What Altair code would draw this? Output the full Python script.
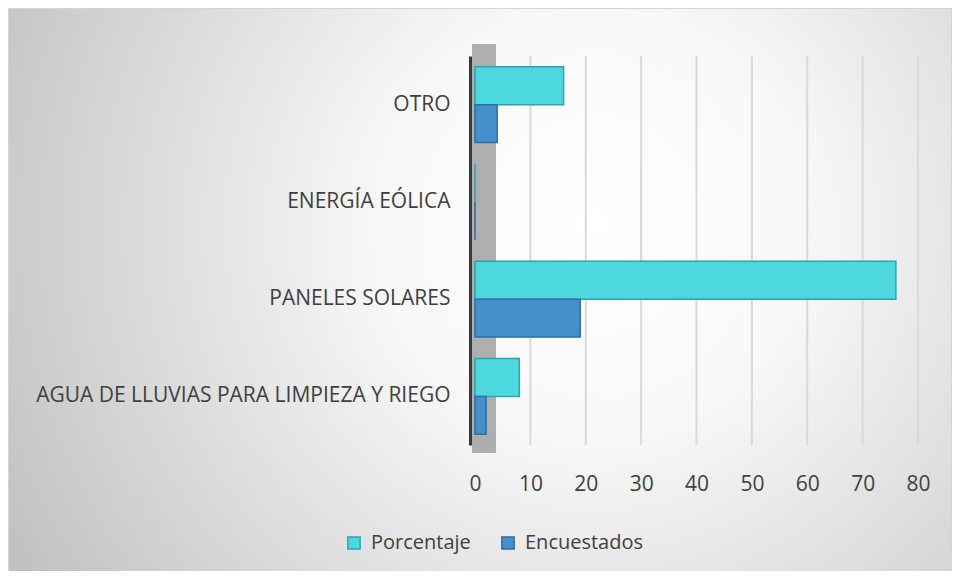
import altair as alt
import pandas as pd

categories = ["OTRO", "ENERGÍA EÓLICA", "PANELES SOLARES", "AGUA DE LLUVIAS PARA LIMPIEZA Y RIEGO"]
series = ["Porcentaje", "Encuestados"]
porcentaje = [16, 0, 76, 8]
encuestados = [4, 0, 19, 2]
x_ticks = [0, 10, 20, 30, 40, 50, 60, 70, 80]

fill_colors = ["#4dd8e0", "#4590cc"]
stroke_colors = ["#27a6ad", "#2d6ea6"]
FONT = "Open Sans"
TXT = "#404040"

rows = []
for c, p, e in zip(categories, porcentaje, encuestados):
    rows.append({"category": c, "series": "Porcentaje", "value": p})
    rows.append({"category": c, "series": "Encuestados", "value": e})
df = pd.DataFrame(rows)

PL, PT, PR, PB = 467, 48, 34, 126
W, H = 443, 389

bg = alt.Chart(pd.DataFrame({"a": [0]})).mark_rect(
    fill=alt.RadialGradient(
        gradient="radial",
        x1=0.62, y1=0.42, r1=0.0,
        x2=0.62, y2=0.42, r2=0.75,
        stops=[
            alt.GradientStop(offset=0, color="#ffffff"),
            alt.GradientStop(offset=0.3, color="#f8f8f8"),
            alt.GradientStop(offset=1, color="#bcbcbc"),
        ],
    ),
    stroke="#d4d4d4",
    strokeWidth=1,
    clip=False,
).encode(
    x=alt.value(-PL + 0.5), x2=alt.value(W + PR - 0.5),
    y=alt.value(-PT + 0.5), y2=alt.value(H + PB + 20),
)

grid = alt.Chart(pd.DataFrame({"t": x_ticks})).mark_rule(
    color="#d9d9d9", strokeWidth=2
).encode(x=alt.X("t:Q"))

wall = alt.Chart(pd.DataFrame({"a": [0]})).mark_rect(
    color="#a6a6a6", opacity=0.9, clip=False
).encode(
    x=alt.value(-3), x2=alt.value(21),
    y=alt.value(-12), y2=alt.value(H + 8),
)

legend_kw = dict(
    title=None, orient="none", legendX=-131, legendY=477,
    direction="horizontal", symbolType="square", symbolSize=150,
    symbolStrokeWidth=1.5, labelFontSize=20, labelFont=FONT,
    labelColor=TXT, columnPadding=27, labelOffset=7,
)

bars = alt.Chart(df).mark_bar(strokeWidth=1.5).encode(
    y=alt.Y(
        "category:N",
        sort=categories,
        scale=alt.Scale(paddingInner=0.22, paddingOuter=0.11),
        axis=alt.Axis(
            title=None, ticks=False, domain=True, domainColor="#3a3a3a",
            domainWidth=3, offset=5, labelPadding=20, labelFontSize=21,
            labelFont=FONT, labelColor=TXT, labelLimit=600, zindex=2,
        ),
    ),
    yOffset=alt.YOffset("series:N", sort=series),
    x=alt.X(
        "value:Q",
        scale=alt.Scale(domain=[0, 80], nice=False),
        axis=alt.Axis(
            title=None, values=x_ticks, ticks=False, domain=False,
            grid=False, labelPadding=28, labelFontSize=21, labelFont=FONT,
            labelColor=TXT, zindex=2, labelFlush=False, labelOverlap=False,
        ),
    ),
    color=alt.Color(
        "series:N",
        sort=series,
        scale=alt.Scale(domain=series, range=fill_colors),
        legend=alt.Legend(**legend_kw),
    ),
    stroke=alt.Stroke(
        "series:N",
        sort=series,
        scale=alt.Scale(domain=series, range=stroke_colors),
        legend=alt.Legend(**legend_kw),
    ),
)

chart = alt.layer(bg, grid, wall, bars).properties(
    width=W, height=H,
    autosize=alt.AutoSizeParams(type="none"),
    padding={"left": PL, "top": PT, "right": PR, "bottom": PB},
    background="white",
).configure_view(stroke=None)

chart.save("out.html", embed_options={"renderer": "svg", "actions": False})
